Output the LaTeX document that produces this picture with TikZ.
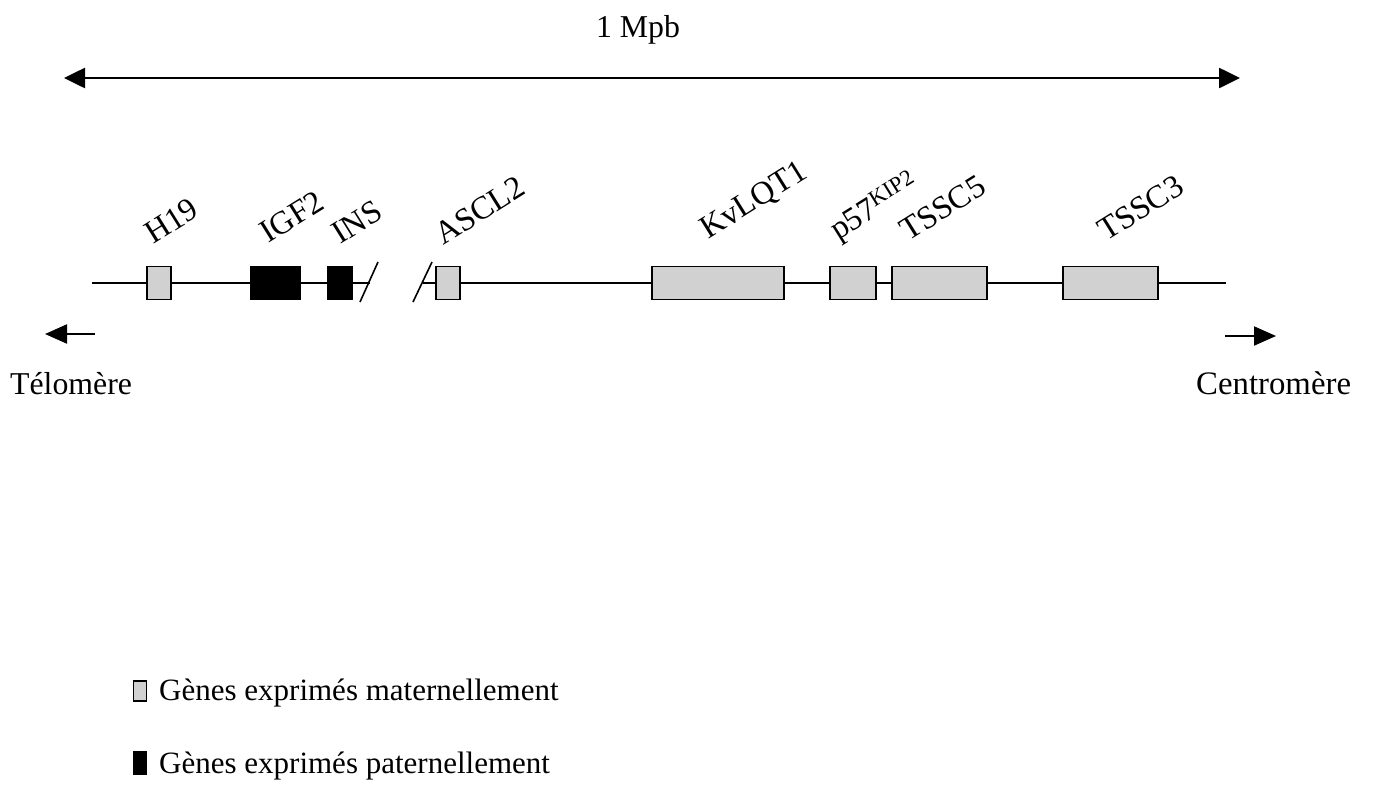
\documentclass[tikz,border=0pt]{standalone}
\usepackage{fontspec}
\setmainfont{Liberation Serif}
\usetikzlibrary{arrows.meta}
\begin{document}
\begin{tikzpicture}[x=1pt,y=-1pt,
  mat/.style={draw=black, line width=1.6pt, fill=black!18, inner sep=0pt, minimum height=33pt},
  pat/.style={draw=black, line width=1.6pt, fill=black, inner sep=0pt, minimum height=33pt},
  lbl/.style={font=\fontsize{32.5}{36}\selectfont, rotate=32, anchor=base west, inner sep=0pt},
  txt/.style={font=\fontsize{31.8}{36}\selectfont, inner sep=0pt},
  leg/.style={font=\fontsize{31}{36}\selectfont, inner sep=0pt, anchor=base west},
  chrom/.style={line width=1.4pt},
  brk/.style={line width=1.6pt},
  big/.style={line width=2.6pt, {Triangle[length=21pt,width=20pt]}-{Triangle[length=21pt,width=20pt]}},
  small/.style={line width=2pt, -{Triangle[length=22pt,width=19pt]}},
]
\useasboundingbox (0,0) rectangle (1373,788);

% scale arrow
\coordinate (tl) at (64,78);
\coordinate (tr) at (1240,78);
\draw[big] (tl) -- (tr);
\node[txt] (mpb) at (638,30) {1 Mpb};

% gene boxes
\node[mat, minimum width=24pt] (h19) at (159,283) {};
\node[pat, minimum width=49pt] (igf2) at (275.5,283) {};
\node[pat, minimum width=24pt] (ins) at (340,283) {};
\node[mat, minimum width=24pt] (ascl2) at (448,283) {};
\node[mat, minimum width=132pt] (kv) at (718,283) {};
\node[mat, minimum width=46pt] (p57) at (853,283) {};
\node[mat, minimum width=95pt] (tssc5) at (939.5,283) {};
\node[mat, minimum width=95pt] (tssc3) at (1110.5,283) {};

% chromosome line
\coordinate (c0) at (92,283);
\coordinate (b1) at (370,283);
\coordinate (b2) at (423,283);
\coordinate (c1) at (1226,283);
\draw[chrom] (c0) -- (h19.west) (h19.east) -- (igf2.west) (igf2.east) -- (ins.west) (ins.east) -- (b1);
\draw[chrom] (b2) -- (ascl2.west) (ascl2.east) -- (kv.west) (kv.east) -- (p57.west)
  (p57.east) -- (tssc5.west) (tssc5.east) -- (tssc3.west) (tssc3.east) -- (c1);
% break marks
\coordinate (s1a) at (360,302); \coordinate (s1b) at (378,262);
\coordinate (s2a) at (413,302); \coordinate (s2b) at (432,262);
\draw[brk] (s1a) -- (s1b);
\draw[brk] (s2a) -- (s2b);

% gene labels
\node[lbl] (lh19) at (153,245) {H19};
\node[lbl] (ligf2) at (268,244) {IGF2};
\node[lbl] (lins) at (340,245) {INS};
\node[lbl] (lascl2) at (443,246) {ASCL2};
\node[lbl] (lkv) at (708,240) {KvLQT1};
\node[lbl] (lp57) at (838,241) {p57\textsuperscript{KIP2}};
\node[lbl] (ltssc5) at (908,242) {TSSC5};
\node[lbl] (ltssc3) at (1106,242) {TSSC3};

% orientation arrows
\coordinate (t0) at (95,334); \coordinate (t1) at (45,334);
\draw[small] (t0) -- (t1);
\coordinate (r0) at (1225,336); \coordinate (r1) at (1276,336);
\draw[small] (r0) -- (r1);
\node[txt, anchor=base west] (tel) at (10,394) {Télomère};
\node[txt, anchor=base west, font=\fontsize{32.8}{36}\selectfont] (cen) at (1196,394) {Centromère};

% legend
\node[mat, minimum width=13pt, minimum height=20pt] (lgm) at (140,691) {};
\node[leg] (lgmt) at (159,700) {Gènes exprimés maternellement};
\node[pat, minimum width=13pt, minimum height=22pt] (lgp) at (140,763) {};
\node[leg] (lgpt) at (159,773) {Gènes exprimés paternellement};
\end{tikzpicture}
\end{document}
